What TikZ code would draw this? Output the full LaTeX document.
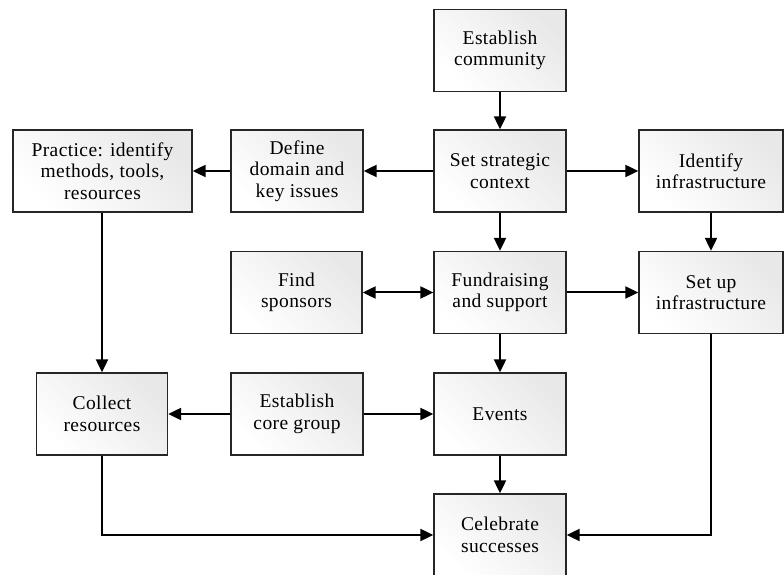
\documentclass[tikz,border=0pt]{standalone}
\usepackage{fontspec}
\setmainfont[LetterSpace=2]{Liberation Serif}
\usetikzlibrary{arrows.meta}
\begin{document}
\begin{tikzpicture}[x=1pt,y=1pt,
  box/.style={draw=black!85, line width=1.3pt, left color=black!9, right color=white, shading angle=-45,
    minimum height=82pt, align=center, inner sep=2pt,
    font=\fontsize{19.5}{21.5}\selectfont},
  conn/.style={line width=2pt, -{Triangle[length=13pt,width=12pt]}},
  dconn/.style={line width=2pt, {Triangle[length=13pt,width=12pt]}-{Triangle[length=13pt,width=12pt]}}]
\useasboundingbox (0,0) rectangle (784,575);
\begin{scope}
\clip (0,0) rectangle (784,575);
\node[box, minimum width=132pt] (ec) at (500,524.5) {Establish\\community};
\node[box, minimum width=132pt] (ssc) at (500,404) {Set strategic\\context};
\node[box, minimum width=132pt] (dd) at (297,404) {Define\\domain and\\key issues};
\node[box, minimum width=179pt] (pr) at (102.5,404) {Practice: identify\\methods, tools,\\resources};
\node[box, minimum width=144pt] (ii) at (711,404) {Identify\\infrastructure};
\node[box, minimum width=131pt] (fs) at (296.5,282.5) {Find\\sponsors};
\node[box, minimum width=132pt] (fr) at (500,282.5) {Fundraising\\and support};
\node[box, minimum width=144pt] (si) at (711,282.5) {Set up\\infrastructure};
\node[box, minimum width=131pt] (cr) at (102,161) {Collect\\resources};
\node[box, minimum width=132pt] (cg) at (297,161) {Establish\\core group};
\node[box, minimum width=132pt] (ev) at (500,161) {Events};
\node[box, minimum width=132pt] (cs) at (500,40) {Celebrate\\successes};
\end{scope}
\draw[conn] (ec.south) -- (ssc.north);
\draw[conn] (ssc.west) -- (dd.east);
\draw[conn] (dd.west) -- (pr.east);
\draw[conn] (ssc.east) -- (ii.west);
\draw[conn] (ssc.south) -- (fr.north);
\draw[conn] (ii.south) -- (si.north);
\draw[dconn] (fs.east) -- (fr.west);
\draw[conn] (fr.east) -- (si.west);
\draw[conn] (fr.south) -- (ev.north);
\draw[conn] (pr.south -| cr.north) -- (cr.north);
\draw[conn] (cg.west) -- (cr.east);
\draw[conn] (cg.east) -- (ev.west);
\draw[conn] (ev.south) -- (cs.north);
\draw[conn] (cr.south) |- (cs.west);
\draw[conn] (si.south) |- (cs.east);
\end{tikzpicture}
\end{document}
